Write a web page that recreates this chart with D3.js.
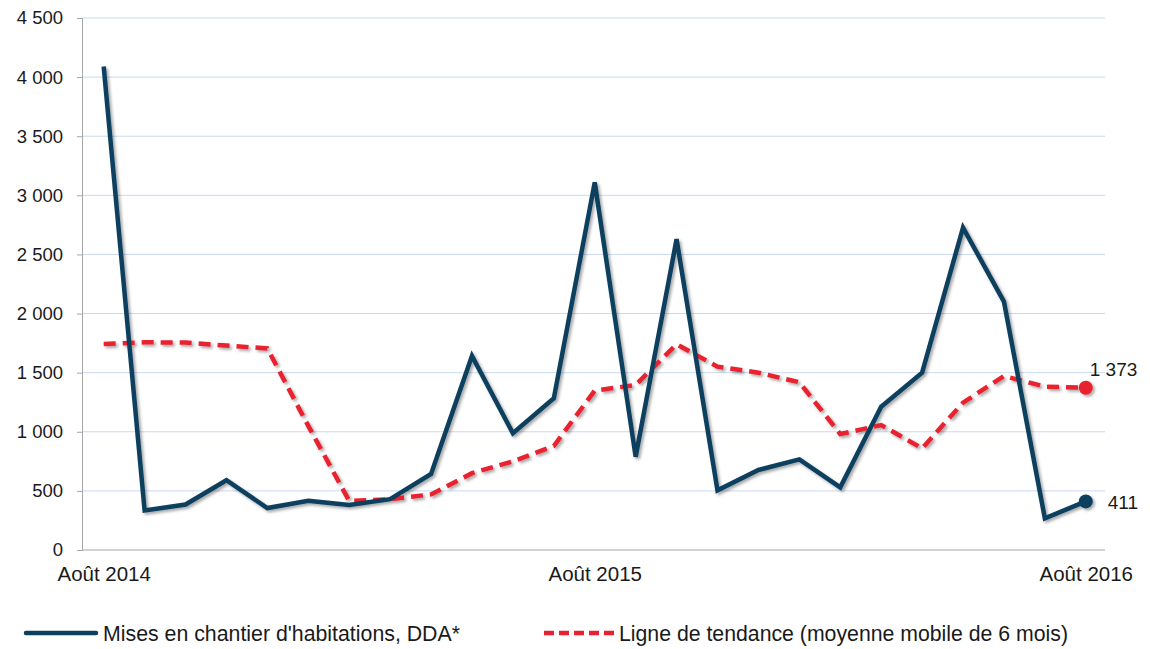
<!DOCTYPE html>
<html lang="fr">
<head>
<meta charset="utf-8">
<title>Mises en chantier</title>
<script src="https://cdn.jsdelivr.net/npm/d3@7"></script>
<style>
  body { margin: 0; background: #fff; }
  text { font-family: "Liberation Sans", Arial, sans-serif; fill: #1a1a1a; }
</style>
</head>
<body>
<script>
// months Août 2014 .. Août 2016
var months = d3.range(25);
var tickMonths = [0, 12, 24];
var tickLabels = ["Août 2014", "Août 2015", "Août 2016"];

var mises = [4090, 335, 385, 590, 355, 417, 380, 430, 643, 1641, 987, 1283, 3110,
             789, 2629, 505, 677, 767, 530, 1212, 1500, 2727, 2101, 268, 411];
var tendance = [1743, 1757, 1755, 1729, 1705, 1050, 415, 430, 470, 650, 750, 880, 1348,
                1396, 1740, 1551, 1500, 1419, 981, 1057, 860, 1246, 1472, 1382, 1373];

var yTicks = d3.range(0, 4501, 500);
var seriesNames = ["Mises en chantier d'habitations, DDA*", "Ligne de tendance (moyenne mobile de 6 mois)"];

var w = 1150, h = 649;
var mLeft = 82, mRight = 1105, mTop = 18, mBottom = 550;

var svg = d3.select("body").append("svg")
  .attr("width", w)
  .attr("height", h);

var defs = svg.append("defs");
var f = defs.append("filter").attr("id", "shadow")
  .attr("x", "-10%").attr("y", "-10%").attr("width", "120%").attr("height", "120%");
f.append("feDropShadow")
  .attr("dx", 2).attr("dy", 2).attr("stdDeviation", 1.8)
  .attr("flood-color", "#000").attr("flood-opacity", 0.35);

var x = d3.scaleLinear().domain([-0.53, 24.47]).range([mLeft, mRight]);
var y = d3.scaleLinear().domain([0, 4500]).range([mBottom, mTop]);

var fmt = function(d) { return d3.format(",")(d).replace(",", " "); };

// grid
svg.append("g").selectAll("line")
  .data(yTicks.slice(1))
  .enter().append("line")
  .attr("x1", mLeft).attr("x2", mRight)
  .attr("y1", function(d) { return y(d); })
  .attr("y2", function(d) { return y(d); })
  .attr("stroke", "#c9d9ef").attr("stroke-width", 1);

// y axis
var yAxis = svg.append("g")
  .attr("transform", "translate(" + mLeft + ",0)")
  .call(d3.axisLeft(y).tickValues(yTicks).tickFormat(fmt).tickSize(5).tickPadding(14));
yAxis.select(".domain").attr("stroke", "#a6a6a6");
yAxis.selectAll(".tick line").attr("stroke", "#a6a6a6");
yAxis.selectAll("text").attr("font-size", "18.5px").attr("fill", "#1a1a1a")
  .attr("font-family", "'Liberation Sans', Arial, sans-serif");

// x axis
var xAxis = svg.append("g")
  .attr("transform", "translate(0," + mBottom + ")")
  .call(d3.axisBottom(x).tickValues(tickMonths)
    .tickFormat(function(d, i) { return tickLabels[i]; }).tickSize(0).tickPadding(16));
xAxis.select(".domain").attr("stroke", "#a6a6a6").attr("d", "M" + mLeft + ",0H" + mRight);
xAxis.selectAll("text").attr("font-size", "20.5px").attr("fill", "#1a1a1a")
  .attr("font-family", "'Liberation Sans', Arial, sans-serif");

var line = d3.line()
  .x(function(d, i) { return x(months[i]); })
  .y(function(d) { return y(d); });

var g = svg.append("g").attr("filter", "url(#shadow)");

g.append("path")
  .datum(tendance)
  .attr("d", line)
  .attr("fill", "none")
  .attr("stroke", "#e8202f")
  .attr("stroke-width", 4.5)
  .attr("stroke-dasharray", "12,7");

g.append("path")
  .datum(mises)
  .attr("d", line)
  .attr("fill", "none")
  .attr("stroke", "#0b3f5e")
  .attr("stroke-width", 4.5)
  .attr("stroke-linejoin", "miter");

// end markers
var last = months.length - 1;
g.append("circle").attr("cx", x(months[last])).attr("cy", y(tendance[last])).attr("r", 7).attr("fill", "#e8202f");
g.append("circle").attr("cx", x(months[last])).attr("cy", y(mises[last])).attr("r", 7).attr("fill", "#0b3f5e");

svg.append("text")
  .attr("x", x(months[last]) + 4).attr("y", y(tendance[last]) - 12)
  .attr("font-size", "19px")
  .text(fmt(tendance[last]));
svg.append("text")
  .attr("x", x(months[last]) + 22).attr("y", y(mises[last]) + 8)
  .attr("font-size", "19px")
  .text(fmt(mises[last]));

// legend
var legend = svg.append("g").attr("transform", "translate(0,633)");
var items = [
  { name: seriesNames[0], color: "#0b3f5e", dash: null, x0: 26, tx: 103, tw: 357 },
  { name: seriesNames[1], color: "#e8202f", dash: "10,5", x0: 544, tx: 619, tw: 449 }
];
items.forEach(function(it) {
  legend.append("line")
    .attr("x1", it.x0).attr("x2", it.x0 + 70)
    .attr("y1", 0).attr("y2", 0)
    .attr("stroke", it.color).attr("stroke-width", 4.5)
    .attr("stroke-linecap", it.dash ? "butt" : "round")
    .attr("stroke-dasharray", it.dash);
  legend.append("text")
    .attr("x", it.tx).attr("y", 8)
    .attr("font-size", "22px")
    .attr("textLength", it.tw)
    .attr("lengthAdjust", "spacingAndGlyphs")
    .text(it.name);
});
</script>
</body>
</html>
